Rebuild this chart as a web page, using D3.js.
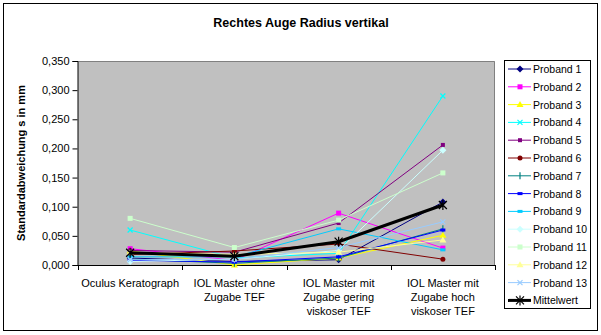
<!DOCTYPE html>
<html>
<head>
<meta charset="utf-8">
<script src="https://cdn.jsdelivr.net/npm/d3@7"></script>
<style>
  body { margin: 0; background: #fff; }
  svg { display: block; font-family: "Liberation Sans", Arial, sans-serif; }
</style>
</head>
<body>
<svg id="chart" width="601" height="335"></svg>
<script>
// Categories (measurement methods)
const categories = [
  ["Oculus Keratograph"],
  ["IOL Master ohne", "Zugabe TEF"],
  ["IOL Master mit", "Zugabe gering", "viskoser TEF"],
  ["IOL Master mit", "Zugabe hoch", "viskoser TEF"]
];

// Standard deviation per subject (mm)
const proband1  = [0.012, 0.006, 0.009, 0.108];
const proband2  = [0.028, 0.008, 0.089, 0.029];
const proband3  = [0.024, 0.000, 0.012, 0.051];
const proband4  = [0.060, 0.012, 0.020, 0.290];
const proband5  = [0.025, 0.022, 0.072, 0.206];
const proband6  = [0.018, 0.024, 0.036, 0.010];
const proband7  = [0.010, 0.003, 0.012, 0.062];
const proband8  = [0.008, 0.005, 0.014, 0.060];
const proband9  = [0.014, 0.014, 0.062, 0.026];
const proband10 = [0.006, 0.010, 0.025, 0.197];
const proband11 = [0.080, 0.030, 0.077, 0.158];
const proband12 = [0.022, 0.018, 0.022, 0.043];
const proband13 = [0.009, 0.010, 0.030, 0.074];
const mittelwert = [0.021, 0.015, 0.040, 0.103];

const yTicks = [0, 0.05, 0.1, 0.15, 0.2, 0.25, 0.3, 0.35];

const series = [
  { name: "Proband 1",  values: proband1,  color: "#000080", marker: "diamond" },
  { name: "Proband 2",  values: proband2,  color: "#FF00FF", marker: "square" },
  { name: "Proband 3",  values: proband3,  color: "#FFFF00", marker: "triangle" },
  { name: "Proband 4",  values: proband4,  color: "#00FFFF", marker: "x" },
  { name: "Proband 5",  values: proband5,  color: "#800080", marker: "star" },
  { name: "Proband 6",  values: proband6,  color: "#800000", marker: "circle" },
  { name: "Proband 7",  values: proband7,  color: "#008080", marker: "plus" },
  { name: "Proband 8",  values: proband8,  color: "#0000FF", marker: "dash" },
  { name: "Proband 9",  values: proband9,  color: "#00CCFF", marker: "dash" },
  { name: "Proband 10", values: proband10, color: "#CCFFFF", marker: "diamond" },
  { name: "Proband 11", values: proband11, color: "#CCFFCC", marker: "square" },
  { name: "Proband 12", values: proband12, color: "#FFFF99", marker: "triangle" },
  { name: "Proband 13", values: proband13, color: "#99CCFF", marker: "x" },
  { name: "Mittelwert", values: mittelwert, color: "#000000", marker: "starx", width: 3 }
];

const svg = d3.select("#chart");
const plot = { left: 78, right: 495, top: 61, bottom: 265 };

// chart frame
svg.append("rect").attr("x", 3.5).attr("y", 3.5).attr("width", 594).attr("height", 327)
  .attr("fill", "#fff").attr("stroke", "#000").attr("stroke-width", 1);

// title
svg.append("text").attr("x", 301).attr("y", 27).attr("text-anchor", "middle")
  .attr("font-size", 12.5).attr("font-weight", "bold").text("Rechtes Auge Radius vertikal");

const x = d3.scalePoint().domain(d3.range(categories.length))
  .range([plot.left, plot.right]).padding(0.5);
const y = d3.scaleLinear().domain([0, 0.35]).range([plot.bottom, plot.top]);

// plot area
svg.append("rect").attr("x", plot.left).attr("y", plot.top)
  .attr("width", plot.right - plot.left).attr("height", plot.bottom - plot.top)
  .attr("fill", "#C0C0C0");
svg.append("path")
  .attr("d", `M${plot.left},${plot.top + 0.5}H${plot.right - 0.5}V${plot.bottom}`)
  .attr("fill", "none").attr("stroke", "#808080").attr("stroke-width", 1);

// y axis
const fmt = v => d3.format(".3f")(v).replace(".", ",");
const yAxis = d3.axisLeft(y).tickValues(yTicks).tickFormat(fmt).tickSize(5).tickPadding(3);
const gy = svg.append("g").attr("transform", `translate(${plot.left - 0.5},0)`).call(yAxis);
gy.selectAll("text").attr("font-size", 11).attr("font-family", "Liberation Sans, Arial, sans-serif").attr("fill", "#000");
gy.selectAll("line,path").attr("stroke", "#000");

// x axis with boundary ticks between categories
const step = x.step();
svg.append("line").attr("x1", plot.left).attr("x2", plot.right)
  .attr("y1", plot.bottom + 0.5).attr("y2", plot.bottom + 0.5).attr("stroke", "#000");
svg.selectAll(".xtick").data(d3.range(categories.length + 1)).join("line")
  .attr("class", "xtick")
  .attr("x1", i => Math.round(plot.left + i * step) + 0.5)
  .attr("x2", i => Math.round(plot.left + i * step) + 0.5)
  .attr("y1", plot.bottom).attr("y2", plot.bottom + 5).attr("stroke", "#000");

const xl = svg.selectAll(".xlabel").data(categories).join("text")
  .attr("class", "xlabel")
  .attr("x", (d, i) => x(i)).attr("y", 287)
  .attr("text-anchor", "middle").attr("font-size", 11);
xl.selectAll("tspan").data(d => d).join("tspan")
  .attr("x", function() { return this.parentNode.getAttribute("x"); })
  .attr("dy", (d, i) => i === 0 ? 0 : 14).text(d => d);

// y axis title
svg.append("text").attr("transform", `translate(25,${(plot.top + plot.bottom) / 2}) rotate(-90)`)
  .attr("text-anchor", "middle").attr("font-size", 11).attr("font-weight", "bold")
  .text("Standardabweichung s in mm");

// marker drawing
function drawMarker(g, type, color) {
  const s = 2.5;
  switch (type) {
    case "diamond":
      g.append("path").attr("d", `M0,${-s - 1}L${s + 1},0L0,${s + 1}L${-s - 1},0Z`).attr("fill", color); break;
    case "square":
      g.append("rect").attr("x", -s).attr("y", -s).attr("width", 2 * s).attr("height", 2 * s).attr("fill", color); break;
    case "triangle":
      g.append("path").attr("d", `M0,${-s - 1}L${s + 1},${s}L${-s - 1},${s}Z`).attr("fill", color); break;
    case "x":
      g.append("path").attr("d", `M${-s},${-s}L${s},${s}M${-s},${s}L${s},${-s}`).attr("stroke", color).attr("stroke-width", 1.2); break;
    case "star":
      g.append("rect").attr("x", -2).attr("y", -2).attr("width", 4).attr("height", 4).attr("fill", color); break;
    case "circle":
      g.append("circle").attr("r", s).attr("fill", color); break;
    case "plus":
      g.append("path").attr("d", `M0,${-s - 1}V${s + 1}`).attr("stroke", color).attr("stroke-width", 1.2); break;
    case "dash":
      g.append("rect").attr("x", -2.5).attr("y", -1.5).attr("width", 5).attr("height", 3).attr("fill", color); break;
    case "starx":
      g.append("path").attr("d", "M-4,-4L4,4M-4,4L4,-4M0,-5V5")
        .attr("stroke", color).attr("stroke-width", 1.2); break;
  }
}

const line = d3.line().x((d, i) => x(i)).y(d => y(d));
const gSeries = svg.append("g");
series.forEach(s => {
  gSeries.append("path").datum(s.values).attr("d", line)
    .attr("fill", "none").attr("stroke", s.color).attr("stroke-width", s.width || 1);
  s.values.forEach((v, i) => {
    const g = gSeries.append("g").attr("transform", `translate(${x(i)},${y(v)})`);
    drawMarker(g, s.marker, s.color);
  });
});

// legend
const lg = svg.append("g");
lg.append("rect").attr("x", 504.5).attr("y", 60.5).attr("width", 86).attr("height", 248)
  .attr("fill", "#fff").attr("stroke", "#000");
series.forEach((s, i) => {
  const yy = 69 + i * 17.8;
  const g = lg.append("g").attr("transform", `translate(0,${yy})`);
  g.append("line").attr("x1", 508).attr("x2", 531).attr("y1", 0).attr("y2", 0)
    .attr("stroke", s.color).attr("stroke-width", s.width || 1);
  drawMarker(g.append("g").attr("transform", "translate(520,0)"), s.marker, s.color);
  const isLong = s.name.startsWith("Proband") && s.name.length > 9;
  g.append("text").attr("x", 533).attr("y", 4).attr("font-size", 10.5)
    .attr("textLength", isLong ? 54 : null)
    .attr("lengthAdjust", "spacingAndGlyphs").text(s.name);
});
</script>
</body>
</html>
